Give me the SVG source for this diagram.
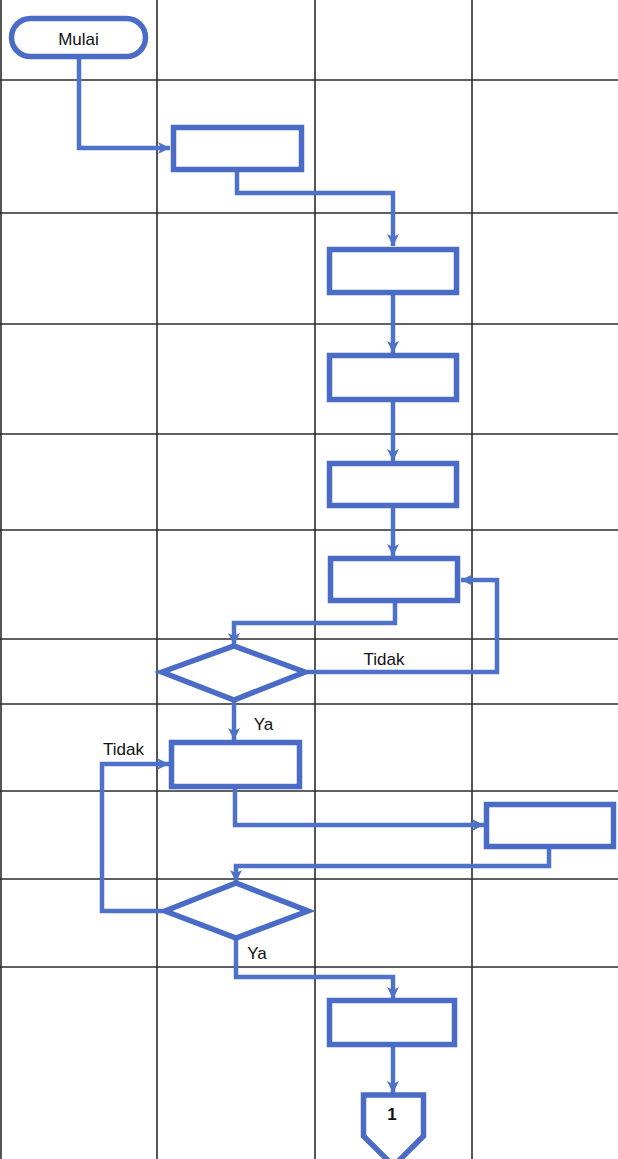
<svg xmlns="http://www.w3.org/2000/svg" width="618" height="1159" viewBox="0 0 618 1159">
<style>
.grid line{stroke:#2b2b2b;stroke-width:1.6}
.shape{fill:#fff;stroke:#4a6cc6;stroke-width:5.5}
.conn path{fill:none;stroke:#4f72c9;stroke-width:4.5}
.lbl{font-family:"Liberation Sans",Arial,sans-serif;font-size:17px;fill:#111}
</style>
<defs>
<marker id="ah" markerUnits="userSpaceOnUse" markerWidth="14" markerHeight="14" viewBox="0 0 14 14" refX="13" refY="7" orient="auto">
<path d="M1,1 L13,7 L1,13 L4,7 Z" fill="#4f72c9"/>
</marker>
</defs>
<rect width="618" height="1159" fill="#fff"/>
<g class="grid">
<line x1="1" y1="0" x2="1" y2="1159"/>
<line x1="157" y1="0" x2="157" y2="1159"/>
<line x1="315" y1="0" x2="315" y2="1159"/>
<line x1="472" y1="0" x2="472" y2="1159"/>
<line x1="0" y1="80" x2="618" y2="80"/>
<line x1="0" y1="213" x2="618" y2="213"/>
<line x1="0" y1="324" x2="618" y2="324"/>
<line x1="0" y1="434" x2="618" y2="434"/>
<line x1="0" y1="530" x2="618" y2="530"/>
<line x1="0" y1="639" x2="618" y2="639"/>
<line x1="0" y1="704" x2="618" y2="704"/>
<line x1="0" y1="791" x2="618" y2="791"/>
<line x1="0" y1="879" x2="618" y2="879"/>
<line x1="0" y1="967" x2="618" y2="967"/>
</g>
<g class="conn">
<path d="M79,58 V148 H170" marker-end="url(#ah)"/>
<path d="M237,171 V193 H393 V246" marker-end="url(#ah)"/>
<path d="M393,295 V353" marker-end="url(#ah)"/>
<path d="M393,402 V461" marker-end="url(#ah)"/>
<path d="M393,508 V556" marker-end="url(#ah)"/>
<path d="M395,603 V623 H234 V645" marker-end="url(#ah)"/>
<path d="M307,672 H497 V580 H461" marker-end="url(#ah)"/>
<path d="M234,701 V740" marker-end="url(#ah)"/>
<path d="M235,789 V825 H484" marker-end="url(#ah)"/>
<path d="M549,849 V866 H236 V882" marker-end="url(#ah)"/>
<path d="M163,911 H102 V764 H169" marker-end="url(#ah)"/>
<path d="M236,939 V977 H393 V999" marker-end="url(#ah)"/>
<path d="M393,1047 V1093" marker-end="url(#ah)"/>
</g>
<g id="start"><rect class="shape" x="11.5" y="18.5" width="134" height="38" rx="19"/><text class="lbl" x="78.5" y="45" text-anchor="middle">Mulai</text></g>
<g id="box1"><rect class="shape" x="173.5" y="127.5" width="128" height="42"/></g>
<g id="box2"><rect class="shape" x="329.5" y="249.5" width="127" height="43"/></g>
<g id="box3"><rect class="shape" x="329.5" y="355.5" width="127" height="44"/></g>
<g id="box4"><rect class="shape" x="329.5" y="463.5" width="127" height="42"/></g>
<g id="box5"><rect class="shape" x="330.5" y="558.5" width="127" height="42"/></g>
<g id="decision1"><polygon class="shape" points="162,672 234,646 305,672 234,700"/></g>
<g id="box6"><rect class="shape" x="171.5" y="742.5" width="128" height="44"/></g>
<g id="box7"><rect class="shape" x="486.5" y="804.5" width="127" height="42"/></g>
<g id="decision2"><polygon class="shape" points="165,911 236,883 308,911 236,938"/></g>
<g id="box8"><rect class="shape" x="329.5" y="1000.5" width="125" height="44"/></g>
<g id="offpage"><polygon class="shape" points="363.5,1095 423.5,1095 423.5,1136 393.5,1166 363.5,1136"/><text class="lbl" x="392" y="1120" text-anchor="middle" font-weight="bold" font-size="15">1</text></g>
<g id="labels">
<text class="lbl" x="384" y="665" text-anchor="middle">Tidak</text>
<text class="lbl" x="263.5" y="730" text-anchor="middle">Ya</text>
<text class="lbl" x="123.5" y="755" text-anchor="middle">Tidak</text>
<text class="lbl" x="257" y="959" text-anchor="middle">Ya</text>
</g>
</svg>
